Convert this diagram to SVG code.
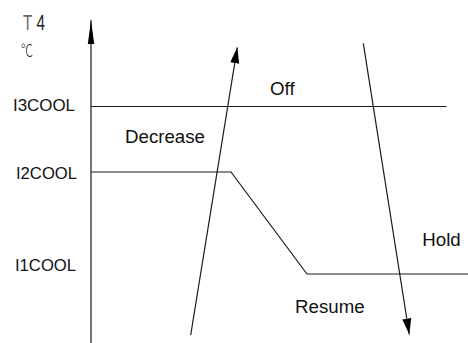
<svg xmlns="http://www.w3.org/2000/svg" width="468" height="343" viewBox="0 0 468 343">
<defs>
<style>
.ln{stroke:#1a1a1a;stroke-width:1.2;fill:none}
.lab{font-family:"Liberation Sans",Arial,sans-serif;font-size:18.7px;fill:#111}
.lv{font-family:"Liberation Sans",Arial,sans-serif;font-size:16.7px;fill:#111}
</style>
<marker id="ah" markerUnits="userSpaceOnUse" viewBox="0 -5 16 10" refX="16" refY="0" markerWidth="16" markerHeight="10" orient="auto">
<path d="M0,-4.5 L16,0 L0,4.5 z" fill="#000"/>
</marker>
<marker id="axh" markerUnits="userSpaceOnUse" viewBox="0 -4 24 8" refX="24" refY="0" markerWidth="24" markerHeight="8" orient="auto">
<path d="M0,-3.2 L24,0 L0,3.2 z" fill="#000"/>
</marker>
</defs>
<rect width="468" height="343" fill="#fff"/>
<g id="axis">
<line class="ln" x1="91" y1="343" x2="91" y2="20" marker-end="url(#axh)"/>
<text x="0" y="30.5" transform="translate(23,0) scale(0.68,1)" font-family="Liberation Sans,Arial,sans-serif" font-size="22.5" fill="#666">T<tspan dx="6" fill="#222">4</tspan></text>
<text x="0" y="56" transform="translate(21,0) scale(0.75,1)" font-family="Noto Sans CJK SC,DejaVu Sans,sans-serif" font-size="16" font-weight="300" fill="#222">℃</text>
</g>
<g id="levels">
<text class="lv" x="13" y="110.7" textLength="62" lengthAdjust="spacingAndGlyphs">I3COOL</text>
<text class="lv" x="16" y="179" textLength="61" lengthAdjust="spacingAndGlyphs">I2COOL</text>
<text class="lv" x="15" y="270.5" textLength="61" lengthAdjust="spacingAndGlyphs">I1COOL</text>
</g>
<g id="connectors">
<line class="ln" x1="91" y1="106.5" x2="446.5" y2="106.5"/>
<polyline class="ln" points="91,172 231,172 307,274 468,274"/>
<line class="ln" x1="190.7" y1="335" x2="237.3" y2="47.3" marker-end="url(#ah)"/>
<line class="ln" x1="363.3" y1="43.3" x2="409.3" y2="334.5" marker-end="url(#ah)"/>
</g>
<g id="labels">
<text class="lab" x="270" y="95">Off</text>
<text class="lab" x="125" y="142.7">Decrease</text>
<text class="lab" x="422.3" y="245.6">Hold</text>
<text class="lab" x="295" y="313.3">Resume</text>
</g>
</svg>
